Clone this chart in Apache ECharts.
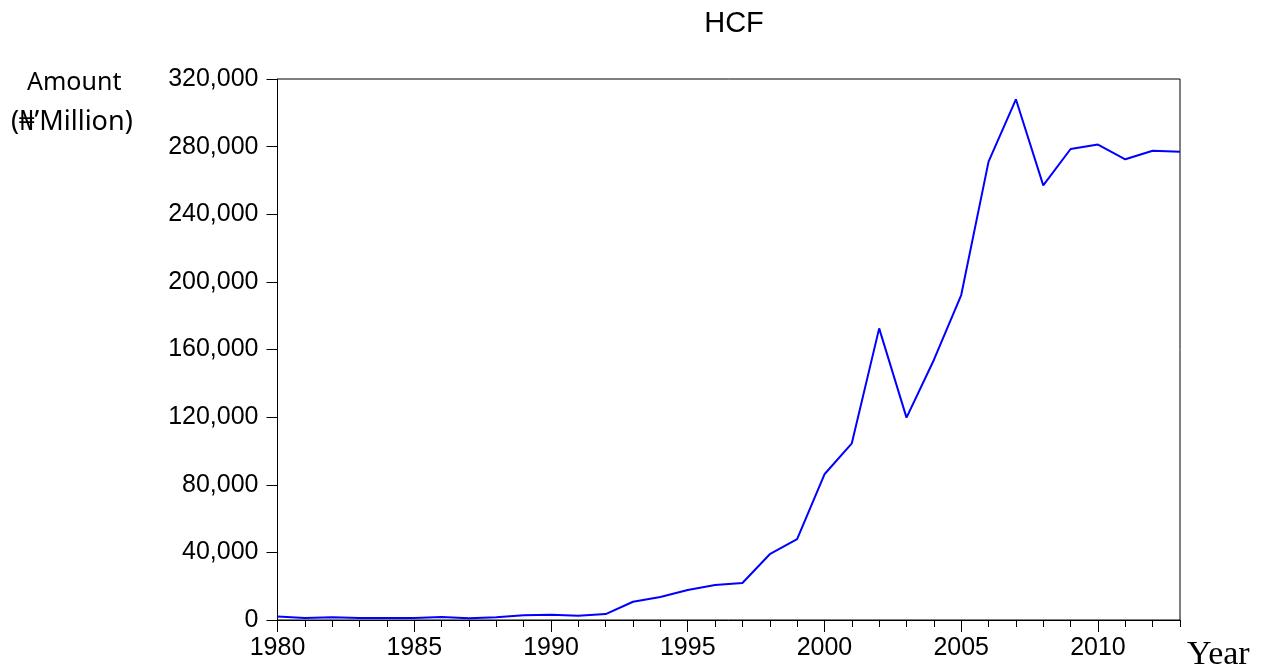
<!DOCTYPE html>
<html>
<head>
<meta charset="UTF-8" />
<title>HCF</title>
<style>
  html, body { margin: 0; padding: 0; background: #fff; }
  #container { width: 1263px; height: 670px; }
</style>
</head>
<body>
<div id="container"></div>
<script src="https://cdn.jsdelivr.net/npm/echarts@6/dist/echarts.min.js"></script>
<script type="text/javascript">
    // years 1980 - 2013
    var years = [1980, 1981, 1982, 1983, 1984, 1985, 1986, 1987, 1988, 1989,
        1990, 1991, 1992, 1993, 1994, 1995, 1996, 1997, 1998, 1999,
        2000, 2001, 2002, 2003, 2004, 2005, 2006, 2007, 2008, 2009,
        2010, 2011, 2012, 2013];
    // HCF, N'Million
    var hcf = [2000, 1200, 1600, 1200, 1200, 1200, 1800, 1000, 1600, 2800,
        3100, 2500, 3500, 10800, 13600, 17700, 20700, 21900, 38900, 47900,
        86200, 104500, 172500, 119700, 153800, 192200, 271100, 308000, 257100, 278600,
        281200, 272500, 277600, 277000];
    var yearLabels = [1980, 1985, 1990, 1995, 2000, 2005, 2010];

    var seriesData = [];
    for (var i = 0; i < years.length; i++) {
        seriesData.push([years[i], hcf[i]]);
    }

    var dom = document.getElementById("container");
    var myChart = echarts.init(dom);

    var font = 'Liberation Sans, Arial, sans-serif';

    var option = {
        animation: false,
        title: {
            text: 'HCF',
            left: 729,
            textAlign: 'center',
            top: 4,
            textStyle: { fontFamily: font, fontSize: 29, fontWeight: 'normal', color: '#000' }
        },
        grid: {
            left: 277.5,
            right: 83,
            top: 79,
            bottom: 50,
            show: true,
            borderColor: '#000',
            borderWidth: 1
        },
        graphic: [
            {
                type: 'text',
                left: 27, top: 70,
                style: {
                    text: 'Amount',
                    font: '25px "Noto Sans", "DejaVu Sans", sans-serif',
                    fill: '#000'
                }
            },
            {
                type: 'text',
                left: 11, top: 109,
                style: {
                    text: '(\u20A6\u2019Million)',
                    font: '27px "Noto Sans", "DejaVu Sans", sans-serif',
                    fill: '#000'
                }
            },
            {
                type: 'text',
                left: 1187, top: 638,
                style: {
                    text: 'Year',
                    font: '34px "Liberation Serif", "Times New Roman", serif',
                    fill: '#000'
                }
            }
        ],
        xAxis: [
            {
                type: 'value',
                min: 1980,
                max: 2013,
                interval: 5,
                position: 'bottom',
                axisLine: { lineStyle: { color: '#000', width: 1 } },
                axisTick: { length: 12, customValues: yearLabels, lineStyle: { color: '#000' } },
                axisLabel: {
                    customValues: yearLabels,
                    margin: 16,
                    fontFamily: font,
                    fontSize: 25,
                    color: '#000',
                    formatter: function (v) { return String(v); }
                },
                splitLine: { show: false }
            },
            {
                type: 'value',
                min: 1980,
                max: 2013,
                interval: 1,
                position: 'bottom',
                axisLine: { show: false },
                axisTick: { length: 7, lineStyle: { color: '#000' } },
                axisLabel: { show: false },
                splitLine: { show: false }
            }
        ],
        yAxis: {
            type: 'value',
            min: 0,
            max: 320000,
            interval: 40000,
            axisLine: { show: true, lineStyle: { color: '#000', width: 1 } },
            axisTick: { show: true, length: 11, lineStyle: { color: '#000' } },
            axisLabel: {
                margin: 19,
                fontFamily: font,
                fontSize: 25,
                color: '#000',
                formatter: function (v) { return v.toLocaleString('en-US'); }
            },
            splitLine: { show: false }
        },
        series: [
            {
                name: 'HCF',
                type: 'line',
                xAxisIndex: 0,
                data: seriesData,
                symbol: 'none',
                lineStyle: { color: '#0000ff', width: 2 }
            }
        ]
    };

    myChart.setOption(option);
</script>
</body>
</html>
